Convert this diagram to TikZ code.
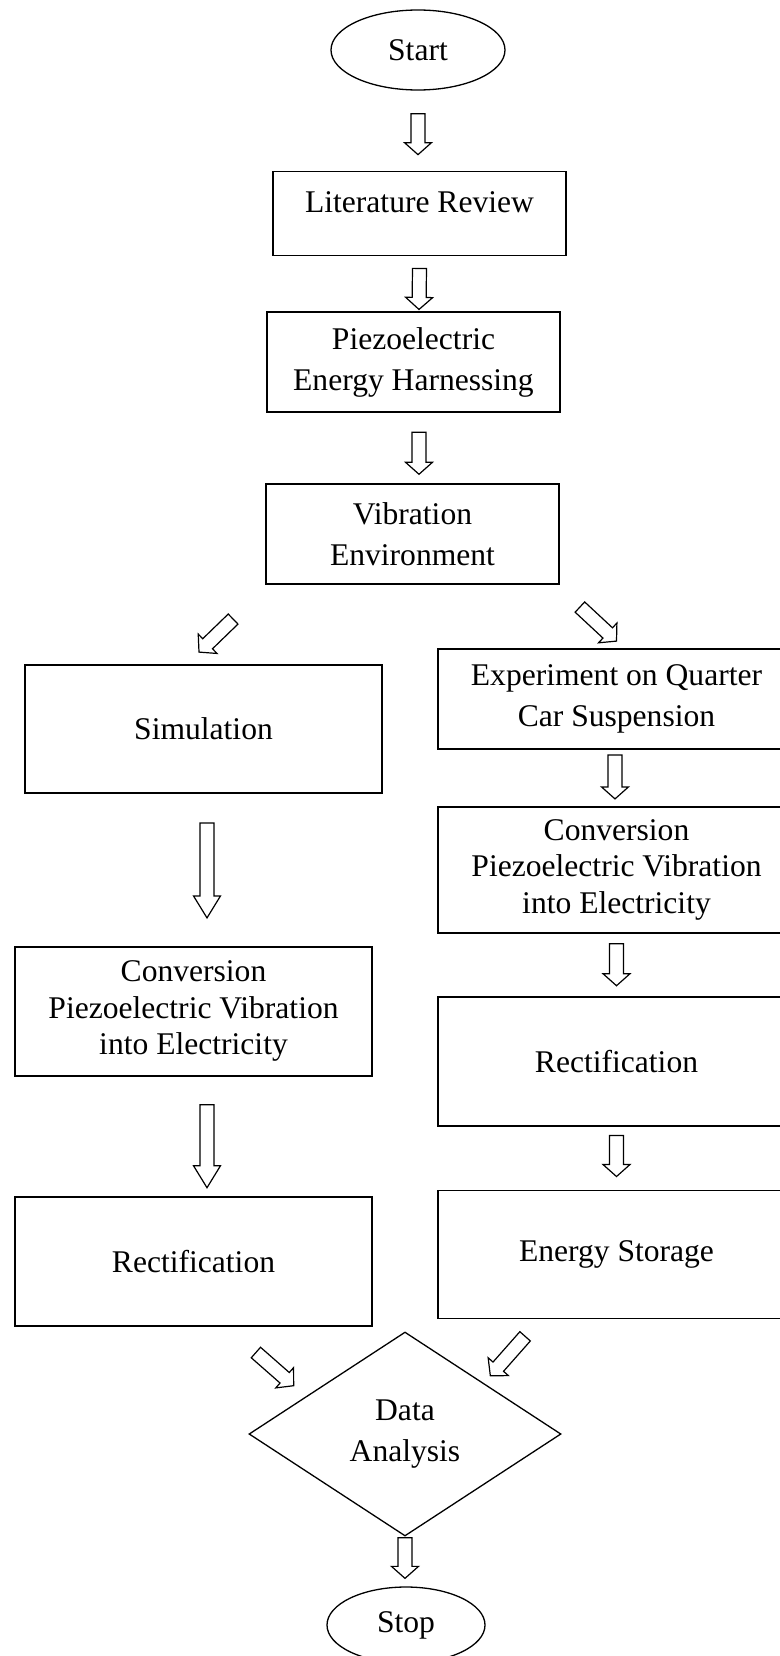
\documentclass[tikz,border=0pt]{standalone}
\usepackage{fontspec}
\setmainfont{Liberation Serif}
\usepackage{tikz}
\usetikzlibrary{shapes.geometric, positioning, calc}
\tikzset{
  baseblock/.style={
    rectangle, draw=black, line width=1.8bp, inner sep=0pt,
    minimum width=293bp, minimum height=100bp, align=center,
    font=\fontsize{31.7}{41}\selectfont
  },
  sideblock/.style={baseblock, minimum width=357bp, minimum height=128bp},
  convblock/.style={sideblock, font=\fontsize{31.7}{36.5}\selectfont},
  terminal/.style={
    ellipse, draw=black, line width=1.3bp, inner sep=0pt,
    minimum width=174bp, minimum height=80bp,
    font=\fontsize{31.7}{41}\selectfont
  },
  decisionblock/.style={
    diamond, draw=black, line width=1.3bp, inner sep=0pt, aspect=1.53,
    minimum width=312bp, minimum height=204bp, align=center,
    font=\fontsize{31.7}{41}\selectfont
  },
  ba shaft/.store in=\bashaft, ba shaft=7bp,
  ba head/.store in=\bahead, ba head=13.5bp,
  ba tip/.store in=\batip, ba tip=12bp,
  blockarrow/.style={
    draw=black, line width=1.2bp,
    to path={
      let \p1=(\tikztostart), \p2=(\tikztotarget), \p3=($(\p2)!\batip!(\p1)$) in
      ($(\p1)!\bashaft!90:(\p2)$) -- ($(\p3)!\bashaft!-90:(\p1)$)
      -- ($(\p3)!\bahead!-90:(\p1)$) -- (\p2)
      -- ($(\p3)!\bahead!90:(\p1)$) -- ($(\p3)!\bashaft!90:(\p1)$)
      -- ($(\p1)!\bashaft!-90:(\p2)$) -- cycle
    }
  },
  longarrow/.style={blockarrow, ba tip=22bp}
}

\begin{document}
\begin{tikzpicture}[x=1bp, y=1bp]
  \useasboundingbox (0,0) rectangle (780,-1656);

  % Main column
  \node[terminal] (start) at (418,-50) {Start};
  \node[baseblock, minimum height=84bp, text height=22bp, text depth=25bp,
        below=80bp of start, xshift=1.5bp] (litrev) {Literature Review};
  \node[baseblock, below=55bp of litrev, xshift=-6bp] (piezo) {Piezoelectric\\Energy Harnessing};
  \node[baseblock, below=70bp of piezo, xshift=-1bp] (vib) {Vibration\\Environment};

  % Left column: simulation
  \node[sideblock] (sim) at (203.5,-729) {Simulation};
  \node[convblock, minimum height=129bp, below=152bp of sim, xshift=-10bp] (convL) {Conversion\\Piezoelectric Vibration\\into Electricity};
  \node[sideblock, minimum height=129bp, below=119bp of convL] (rectL) {Rectification};

  % Right column: experiment
  \node[sideblock, minimum height=100bp] (exp) at (616.5,-699) {Experiment on Quarter\\Car Suspension};
  \node[convblock, minimum height=126bp, below=56bp of exp] (convR) {Conversion\\Piezoelectric Vibration\\into Electricity};
  \node[sideblock, minimum height=129bp, below=62bp of convR] (rectR) {Rectification};
  \node[sideblock, below=63bp of rectR] (store) {Energy Storage};

  % Merge
  \node[decisionblock] (analysis) at (405,-1434) {Data\\Analysis};
  \node[terminal, minimum width=158bp, minimum height=76bp] (stop) at (406,-1625) {Stop};

  % Block arrows
  \draw[blockarrow] ($(start.south)+(0,-23)$) to ($(litrev.north)+(-1.5,16)$);
  \draw[blockarrow] ($(litrev.south)+(0,-12)$) to ($(piezo.north)+(5.5,2)$);
  \draw[blockarrow] ($(piezo.south)+(5.5,-19)$) to ($(vib.north)+(6.5,9)$);
  \draw[blockarrow] ($(vib.south west)+(-32,-34)$) to ($(sim.north)+(-4.5,12)$);
  \draw[blockarrow] ($(vib.south east)+(20,-22)$) to ($(exp.north)+(0,7)$);

  \draw[longarrow] ($(sim.south)+(3.5,-29)$) to ($(convL.north)+(13.5,28)$);
  \draw[longarrow] ($(convL.south)+(13.5,-28)$) to ($(rectL.north)+(13.5,8)$);

  \draw[blockarrow] ($(exp.south)+(-1.5,-5)$) to ($(convR.north)+(-1.5,7)$);
  \draw[blockarrow] ($(convR.south)+(0,-10)$) to ($(rectR.north)+(0,10)$);
  \draw[blockarrow] ($(rectR.south)+(0,-9)$) to ($(store.north)+(0,13)$);

  \draw[blockarrow] ($(rectL.south east)+(-117,-26)$) to ($(analysis.north west)+(-33,-3)$);
  \draw[blockarrow] ($(store.south west)+(88,-17)$) to ($(analysis.north east)+(7,7)$);
  \draw[blockarrow] ($(analysis.south)+(0,-1)$) to ($(stop.north)+(-1,8)$);

\end{tikzpicture}
\end{document}
